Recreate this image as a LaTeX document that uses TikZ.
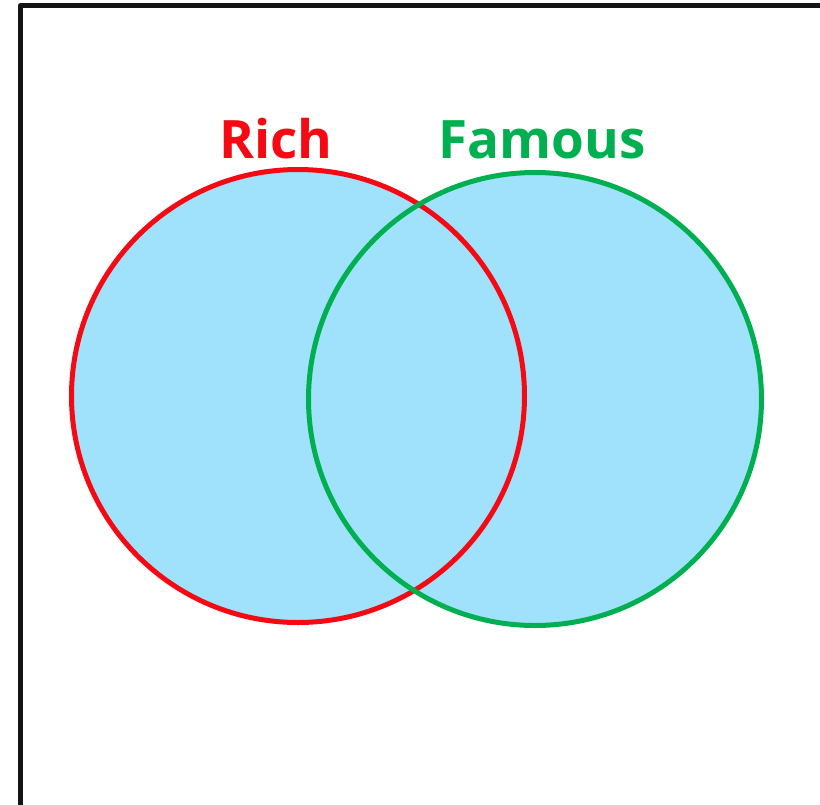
\documentclass[tikz,border=0pt]{standalone}
\usepackage{fontspec}
\setmainfont{Open Sans}
\definecolor{vennfill}{RGB}{160,225,252}
\definecolor{vennred}{RGB}{245,10,20}
\definecolor{venngreen}{RGB}{0,176,80}
\begin{document}
\begin{tikzpicture}[x=1pt,y=-1pt,
  setline/.style={line width=5pt},
  setlabel/.style={font=\fontsize{53}{60}\selectfont\bfseries, anchor=base, inner sep=0pt}]
\useasboundingbox (0,0) rectangle (820,804);
\draw[line width=5pt, line join=round, black!92] (20.5,830) -- (20.5,5.5) -- (850,5.5);
\coordinate (rc) at (298,396);
\coordinate (gc) at (535,399);
\fill[vennfill] (rc) circle (226.5);
\fill[vennfill] (gc) circle (226.5);
\draw[setline, vennred] (rc) circle (226.5);
\draw[setline, venngreen] (gc) circle (226.5);
\node[setlabel, text=vennred] (rich) at (276,158) {Rich};
\node[setlabel, text=venngreen] (famous) at (542,158) {Famous};
\end{tikzpicture}
\end{document}
